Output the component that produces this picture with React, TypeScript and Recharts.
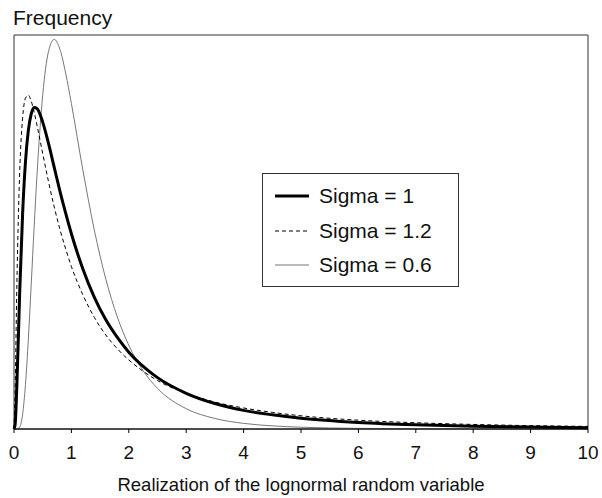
import { LineChart, Line, XAxis, YAxis, ReferenceArea, Legend } from 'recharts'

// x positions sampled along the curves
const xs = [0, 0.02, 0.05, 0.1, 0.15, 0.2, 0.25, 0.3, 0.35, 0.4, 0.5, 0.6, 0.7, 0.8, 0.9, 1.0, 1.2, 1.4, 1.6, 1.8, 2.0, 2.25, 2.5, 3, 3.5, 4, 4.5, 5, 6, 7, 8, 9, 10]

// frequency for each curve
const sigma1 = [0, 0.0095, 0.09, 0.282, 0.44, 0.546, 0.61, 0.644, 0.657, 0.655, 0.627, 0.584, 0.535, 0.486, 0.441, 0.399, 0.327, 0.269, 0.223, 0.187, 0.157, 0.128, 0.105, 0.073, 0.052, 0.038, 0.029, 0.022, 0.0134, 0.0086, 0.0057, 0.004, 0.0028]
const sigma12 = [0, 0.082, 0.295, 0.528, 0.635, 0.676, 0.682, 0.67, 0.648, 0.621, 0.563, 0.506, 0.454, 0.408, 0.368, 0.332, 0.274, 0.228, 0.192, 0.164, 0.141, 0.118, 0.099, 0.073, 0.055, 0.043, 0.034, 0.027, 0.018, 0.0128, 0.0093, 0.0069, 0.0053]
const sigma06 = [0, 0, 0, 0.004, 0.03, 0.091, 0.184, 0.296, 0.411, 0.518, 0.682, 0.771, 0.796, 0.776, 0.727, 0.665, 0.529, 0.406, 0.306, 0.229, 0.171, 0.119, 0.083, 0.0415, 0.0215, 0.0115, 0.0064, 0.0036, 0.0013, 0.0005, 0.0002, 0.0001, 0]

const xTicks = [0, 1, 2, 3, 4, 5, 6, 7, 8, 9, 10]

const legendItems = [
  { label: 'Sigma = 1', color: '#000', width: 3, dash: undefined },
  { label: 'Sigma = 1.2', color: '#000', width: 1, dash: '4 3' },
  { label: 'Sigma = 0.6', color: '#777', width: 1, dash: undefined },
]

const data = xs.map((x, i) => ({ x, s1: sigma1[i], s12: sigma12[i], s06: sigma06[i] }))

const font = 'Liberation Sans, Arial, sans-serif'

function LegendBox() {
  return (
    <div style={{ position: 'absolute', left: 262, top: 173, border: '1px solid #333', background: '#fff', width: 197, height: 114, boxSizing: 'border-box', padding: '5px 0 0 12px', fontFamily: font, fontSize: 21, color: '#111' }}>
      {legendItems.map(item => (
        <div key={item.label} style={{ display: 'flex', alignItems: 'center', height: 34.5, lineHeight: '34.5px' }}>
          <svg width={34} height={10} style={{ marginRight: 10 }}>
            <line x1={0} y1={5} x2={34} y2={5} stroke={item.color} strokeWidth={item.width} strokeDasharray={item.dash} />
          </svg>
          <span>{item.label}</span>
        </div>
      ))}
    </div>
  )
}

export default function App() {
  return (
    <div style={{ position: 'absolute', left: 0, top: 0, width: 602, height: 498, background: '#fff' }}>
      <div style={{ position: 'absolute', left: 13, top: 8, fontFamily: font, fontSize: 21, lineHeight: '20px', color: '#111' }}>Frequency</div>
      <LineChart width={602} height={498} data={data} margin={{ top: 35, right: 14, bottom: 0, left: 14 }}>
        <XAxis
          dataKey="x"
          type="number"
          domain={[0, 10]}
          ticks={xTicks}
          interval={0}
          tickSize={4}
          tickMargin={13}
          height={69}
          axisLine={{ stroke: '#000' }}
          tickLine={{ stroke: '#000' }}
          tick={{ fill: '#111', fontSize: 19, fontFamily: font }}
          label={{ value: 'Realization of the lognormal random variable', position: 'insideBottom', offset: 7, fill: '#111', fontSize: 18.5, fontFamily: font }}
        />
        <YAxis type="number" domain={[0, 0.805]} hide />
        <ReferenceArea x1={0} x2={10} y1={0} y2={0.805} fill="none" stroke="#333" strokeWidth={1} ifOverflow="visible" />
        <Line type="monotone" dataKey="s06" stroke="#777" strokeWidth={1} dot={false} isAnimationActive={false} />
        <Line type="monotone" dataKey="s12" stroke="#000" strokeWidth={1} strokeDasharray="4 3" dot={false} isAnimationActive={false} />
        <Line type="monotone" dataKey="s1" stroke="#000" strokeWidth={3} dot={false} isAnimationActive={false} />
        <Legend
          layout="vertical"
          align="center"
          verticalAlign="middle"
          content={() => <LegendBox />}
          wrapperStyle={{ position: 'absolute', left: 0, top: 0, width: 0, height: 0 }}
        />
      </LineChart>
    </div>
  )
}
